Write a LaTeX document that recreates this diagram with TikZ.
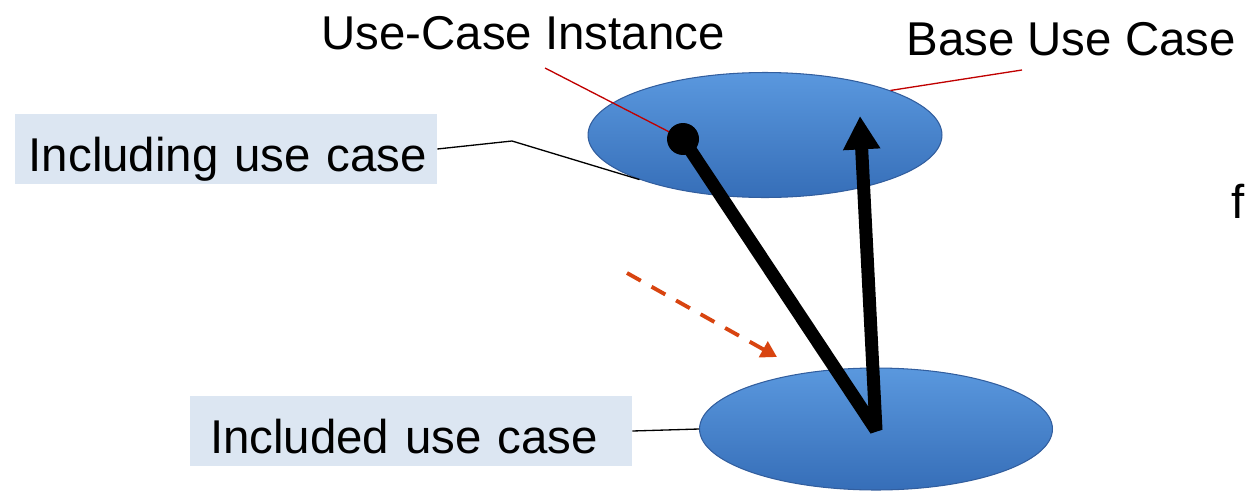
\documentclass[tikz,border=0pt]{standalone}
\usepackage{fontspec}
\setmainfont{Liberation Sans}
\usetikzlibrary{shapes.geometric, arrows.meta, positioning}
\definecolor{uctop}{RGB}{90,152,222}
\definecolor{ucbot}{RGB}{54,110,184}
\definecolor{ucedge}{RGB}{50,94,158}
\definecolor{notefill}{RGB}{220,230,242}
\definecolor{leadred}{RGB}{192,0,0}
\definecolor{flowred}{RGB}{216,68,16}
\tikzstyle{usecase} = [ellipse, draw=ucedge, line width=0.6pt, top color=uctop, bottom color=ucbot, inner sep=0pt]
\tikzstyle{note} = [fill=notefill, inner xsep=0.4cm, inner ysep=0pt, minimum height=1.4cm, text height=0.9cm, text depth=0cm, align=left, font=\fontsize{27}{32}\selectfont]
\tikzstyle{plaintext} = [inner sep=0pt, anchor=base west, font=\fontsize{27}{32}\selectfont]
\tikzstyle{dot} = [circle, fill=black, minimum size=0.64cm, inner sep=0pt]
\tikzstyle{leader} = [draw, line width=0.75pt]
\tikzstyle{redleader} = [draw=leadred, line width=0.75pt]
\tikzstyle{flowline} = [draw, line width=7.4pt, line join=bevel, -{Triangle[length=19pt, width=20pt]}]
\tikzstyle{hint} = [draw=flowred, line width=2.2pt, dash pattern=on 9pt off 7pt, -{Triangle[length=9pt, width=10pt]}]

\begin{document}
\begin{tikzpicture}[x=0.02cm, y=-0.02cm]
	\useasboundingbox (0,0) rectangle (1246,490);
	
	% use cases
	\node [usecase, minimum width=7.08cm, minimum height=2.5cm] (base) at (765,135) {};
	\node [usecase, minimum width=7.06cm, minimum height=2.44cm] (included) at (876,429) {};
	
	% notes
	\node [note, inner xsep=0.2cm, text width=8.04cm, align=right] (inclnote) at (226,149) {Including use case};
	\node [note, text width=8.04cm] (incdnote) at (411,431) {Included use case};
	\node [plaintext] (instname) at (321,49) {Use-Case Instance};
	\node [plaintext] (basename) at (906,55) {Base Use Case};
	\node [plaintext] (cut) at (1231,218) {f};
	
	\coordinate (instfoot) at (545,68);
	\coordinate (basefoot) at (1022,70);
	\coordinate (bend) at (512,141);
	\coordinate (instpt) at (683,139);
	\coordinate (vert) at (876,430);
	\coordinate (tip) at (860,116);
	\coordinate (hintstart) at (627,273);
	\coordinate (hintend) at (777,357);
	
	\path [redleader] (instfoot) -- (instpt);
	\node [dot] (inst) at (instpt) {};
	\path [redleader] (basefoot) -- (base.north east);
	\path [leader] (inclnote.east) -- (bend) -- (base.south west);
	\path [leader] (incdnote.east) -- (included.west);
	
	\path [flowline] (inst.center) -- (vert) -- (tip);
	\path [hint] (hintstart) -- (hintend);
\end{tikzpicture}
\end{document}
